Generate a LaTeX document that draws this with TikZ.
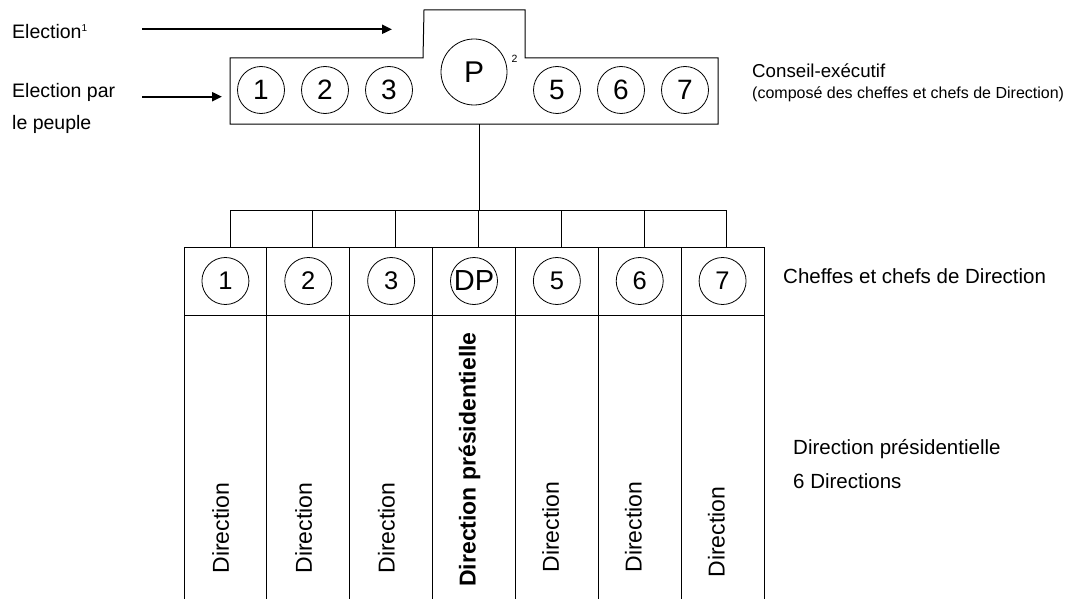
\documentclass[tikz,border=0pt]{standalone}
\usepackage{fontspec}
\setmainfont{Liberation Sans}
\usetikzlibrary{arrows.meta,calc}
\begin{document}
\begin{tikzpicture}[x=1pt,y=-1pt,
  box/.style={draw=black,line width=1pt},
  circ/.style={draw=black,line width=0.8pt,circle,inner sep=0pt,minimum size=47pt,font=\fontsize{25.5}{25.5}\selectfont},
  topcirc/.style={circ,font=\fontsize{28}{28}\selectfont},
  cell/.style={draw=black,line width=1pt,minimum width=82.857pt,minimum height=68pt,inner sep=0pt,outer sep=0pt},
  lbl/.style={inner sep=0pt,anchor=base west,font=\fontsize{19.5}{23}\selectfont},
  side/.style={inner sep=0pt,anchor=base west,font=\fontsize{20.5}{24}\selectfont},
  vdir/.style={rotate=90,anchor=base,inner sep=0pt,font=\fontsize{23}{23}\selectfont},
  arr/.style={line width=2pt,-{Triangle[length=10pt,width=9pt]}},
  conn/.style={line width=1pt}]
\useasboundingbox (0,0) rectangle (1075,599);

% left labels and arrows
\node[lbl] (el1) at (12,39) {Election\raisebox{7pt}{\fontsize{10}{10}\selectfont 1}};
\node[lbl] (el2) at (12,97.5) {Election par};
\node[lbl] (el3) at (12,129) {le peuple};
\coordinate (a1s) at (142,29.3);
\coordinate (a1e) at (392,29.3);
\coordinate (a2s) at (142,96.7);
\coordinate (a2e) at (222,96.7);
\draw[arr] (a1s) -- (a1e);
\draw[arr] (a2s) -- (a2e);

% executive council box
\draw[box] (230,58) -- (423,58) -- (424,10) -- (525,10) -- (525,58) -- (718,58) -- (718,124) -- (230,124) -- cycle;
\coordinate (cbot) at (479,124);
\node[topcirc] (c1) at (261,90) {1};
\node[topcirc] (c2) at (325,90) {2};
\node[topcirc] (c3) at (389,90) {3};
\node[circ,minimum size=66pt,font=\fontsize{30}{30}\selectfont] (cP) at (474,72) {P};
\node[inner sep=0pt,font=\fontsize{10.5}{11}\selectfont] (sup2) at (514.5,59) {2};
\node[topcirc] (c5) at (557,90) {5};
\node[topcirc] (c6) at (621,90) {6};
\node[topcirc] (c7) at (685,90) {7};

\node[side,font=\fontsize{18.7}{22}\selectfont] (conseil) at (752,78) {Conseil-exécutif};
\node[side,font=\fontsize{16}{19}\selectfont] (compose) at (752,99) {(composé des cheffes et chefs de Direction)};

% bus
\coordinate (bus) at (479,210);
\draw[conn] (cbot) -- (bus);
\foreach \i in {1,...,7} {
  \coordinate (t\i) at ({230+82.8*(\i-1)},210);
}
\draw[conn] (t1) -- (t7);

% table header cells
\foreach \i/\t in {1/1,2/2,3/3,5/5,6/6,7/7} {
  \node[cell] (h\i) at ({184+82.857*(\i-0.5)},281) {};
  \node[circ] (d\i) at (h\i.center) {\t};
}
\node[cell] (h4) at ({184+82.857*3.5},281) {};
\node[circ,font=\fontsize{29}{29}\selectfont] (d4) at (h4.center) {\makebox[0pt]{DP}};
\foreach \i in {1,...,7} {
  \draw[conn] (t\i) -- (t\i |- h\i.north);
}
\node[side] (chefs) at (783,283) {Cheffes et chefs de Direction};

% direction columns (open at the bottom, cut by the page edge)
\foreach \i in {1,...,7} {
  \draw[box] (h\i.south west) -- ($(h\i.south west)+(0,300)$);
  \draw[box] (h\i.south east) -- ($(h\i.south east)+(0,300)$);
}
\foreach \i in {1,2,3} {
  \node[vdir] (v\i) at ($(h\i.center |- 0,528)+(3.5,0)$) {Direction};
}
\node[vdir,font=\fontsize{23}{23}\selectfont\bfseries] (v4) at ($(h4.center |- 0,459.5)+(1.5,0)$) {Direction présidentielle};
\node[vdir] (v5) at ($(h5.center |- 0,527)+(2,0)$) {Direction};
\node[vdir] (v6) at ($(h6.center |- 0,527)+(2,0)$) {Direction};
\node[vdir] (v7) at ($(h7.center |- 0,532)+(2,0)$) {Direction};

\node[side] (dp) at (793,454) {Direction présidentielle};
\node[side] (six) at (793,488) {6 Directions};
\end{tikzpicture}
\end{document}
